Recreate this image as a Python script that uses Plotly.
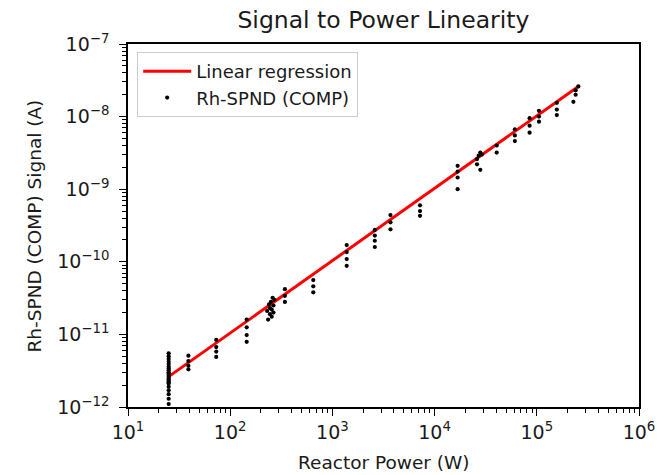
import plotly.graph_objects as go
import numpy as np

# ---- data ----
power_w = [
    25, 25, 25, 25, 25, 25, 25, 25, 25, 25, 25, 25, 25, 25, 25, 25, 25, 25, 25, 25, 25, 25,
    39, 39, 39, 39,
    73, 73, 73, 73,
    145, 145, 145, 145,
    230, 235, 240, 245, 245, 250, 255, 255, 260, 265, 265, 270,
    343, 343, 343,
    650, 650, 650,
    1380, 1380, 1380, 1380,
    2600, 2600, 2600, 2600,
    3700, 3700, 3700,
    7200, 7200, 7200,
    16800, 16800, 16800, 16800,
    26000, 27000, 28000, 29000, 26000, 28000,
    40500, 40500,
    61000, 61000, 61000,
    85000, 85000, 85000,
    105000, 105000, 105000,
    157000, 157000, 157000,
    228000, 240000, 255000, 240000,
]
signal_a = [
    5.5e-12, 5.0e-12, 4.6e-12, 4.2e-12, 3.9e-12, 3.6e-12, 3.4e-12, 3.2e-12, 3.0e-12, 2.9e-12, 2.75e-12,
    2.6e-12, 2.5e-12, 2.4e-12, 2.3e-12, 2.2e-12, 2.1e-12, 1.9e-12, 1.7e-12, 1.5e-12, 1.3e-12, 1.1e-12,
    5.1e-12, 4.3e-12, 3.7e-12, 3.3e-12,
    8.4e-12, 6.7e-12, 5.8e-12, 4.9e-12,
    1.6e-11, 1.25e-11, 9.8e-12, 7.9e-12,
    2.1e-11, 1.6e-11, 2.6e-11, 1.9e-11, 2.3e-11, 2.8e-11, 1.75e-11, 2.2e-11, 3.2e-11, 2.5e-11, 2.0e-11, 3.0e-11,
    4.2e-11, 3.4e-11, 2.8e-11,
    5.6e-11, 4.6e-11, 3.8e-11,
    1.7e-10, 1.36e-10, 1.09e-10, 8.8e-11,
    2.75e-10, 2.3e-10, 1.95e-10, 1.6e-10,
    4.4e-10, 3.5e-10, 2.8e-10,
    6.0e-10, 5.0e-10, 4.3e-10,
    2.1e-9, 1.75e-9, 1.45e-9, 1.0e-9,
    2.6e-9, 2.9e-9, 3.2e-9, 3.0e-9, 2.2e-9, 1.85e-9,
    4.0e-9, 3.2e-9,
    6.7e-9, 5.5e-9, 4.6e-9,
    9.5e-9, 7.5e-9, 6.0e-9,
    1.2e-8, 1.0e-8, 8.5e-9,
    1.55e-8, 1.25e-8, 1.05e-8,
    1.6e-8, 2.0e-8, 2.6e-8, 2.3e-8,
]

# regression in log10 space: log10(I) = fit_slope * log10(P) + fit_offset
fit_slope = 0.997
fit_offset = -12.975

x_tickvals = [1e1, 1e2, 1e3, 1e4, 1e5, 1e6]
x_ticktext = ["10<sup>1</sup>", "10<sup>2</sup>", "10<sup>3</sup>", "10<sup>4</sup>", "10<sup>5</sup>", "10<sup>6</sup>"]
y_tickvals = [1e-12, 1e-11, 1e-10, 1e-9, 1e-8, 1e-7]
y_ticktext = ["10<sup>\u221212</sup>\u00a0", "10<sup>\u221211</sup>\u00a0", "10<sup>\u221210</sup>\u00a0",
              "10<sup>\u22129</sup>\u00a0", "10<sup>\u22128</sup>\u00a0", "10<sup>\u22127</sup>\u00a0"]

x_title = "Reactor Power (W)"
y_title = "Rh-SPND (COMP) Signal (A)"
chart_title = "Signal to Power Linearity"

fit_x = np.array([min(power_w), max(power_w)], dtype=float)
fit_y = 10 ** (fit_slope * np.log10(fit_x) + fit_offset)

FONT = "DejaVu Sans"
TXT = "#1a1a1a"

fig = go.Figure()
fig.add_trace(go.Scatter(
    x=fit_x, y=fit_y, mode="lines", name="Linear regression",
    line=dict(color="#ff0000", width=3),
))
fig.add_trace(go.Scatter(
    x=power_w, y=signal_a, mode="markers", name="Rh-SPND (COMP)",
    marker=dict(color="black", size=4.2),
))

axis_common = dict(
    type="log", showgrid=False, zeroline=False,
    showline=True, linecolor="black", linewidth=1.5, mirror=True,
    ticks="outside", ticklen=7, tickwidth=1.2, tickcolor="black",
    tickfont=dict(family=FONT, size=19, color=TXT),
    minor=dict(ticks="outside", ticklen=4, tickwidth=1, tickcolor="black",
               showgrid=False, dtick="D1"),
)

fig.update_layout(
    width=666, height=475,
    margin=dict(l=128, r=27, t=44, b=68),
    paper_bgcolor="white", plot_bgcolor="white",
    font=dict(family=FONT, size=18, color=TXT),
    title=dict(text=chart_title, x=0.5757, xanchor="center",
               y=0.958, yanchor="middle", font=dict(family=FONT, size=23.5, color=TXT)),
    xaxis=dict(axis_common, range=[1, 6], tickvals=x_tickvals, ticktext=x_ticktext),
    yaxis=dict(axis_common, range=[-12, -7], tickvals=y_tickvals, ticktext=y_ticktext),
    legend=dict(x=0.018, y=0.978, xanchor="left", yanchor="top",
                bgcolor="rgba(255,255,255,0.9)", bordercolor="#cccccc", borderwidth=1,
                itemwidth=48,
                font=dict(family=FONT, size=18, color=TXT)),
    showlegend=True,
    annotations=[
        dict(text=x_title, xref="paper", yref="paper", x=0.5, y=-0.154,
             xanchor="center", yanchor="middle", showarrow=False,
             font=dict(family=FONT, size=18.5, color=TXT)),
        dict(text=y_title, xref="paper", yref="paper", x=-0.182, y=0.5,
             xanchor="center", yanchor="middle", showarrow=False, textangle=-90,
             font=dict(family=FONT, size=18.5, color=TXT)),
    ],
)

fig.write_html("out.html")
